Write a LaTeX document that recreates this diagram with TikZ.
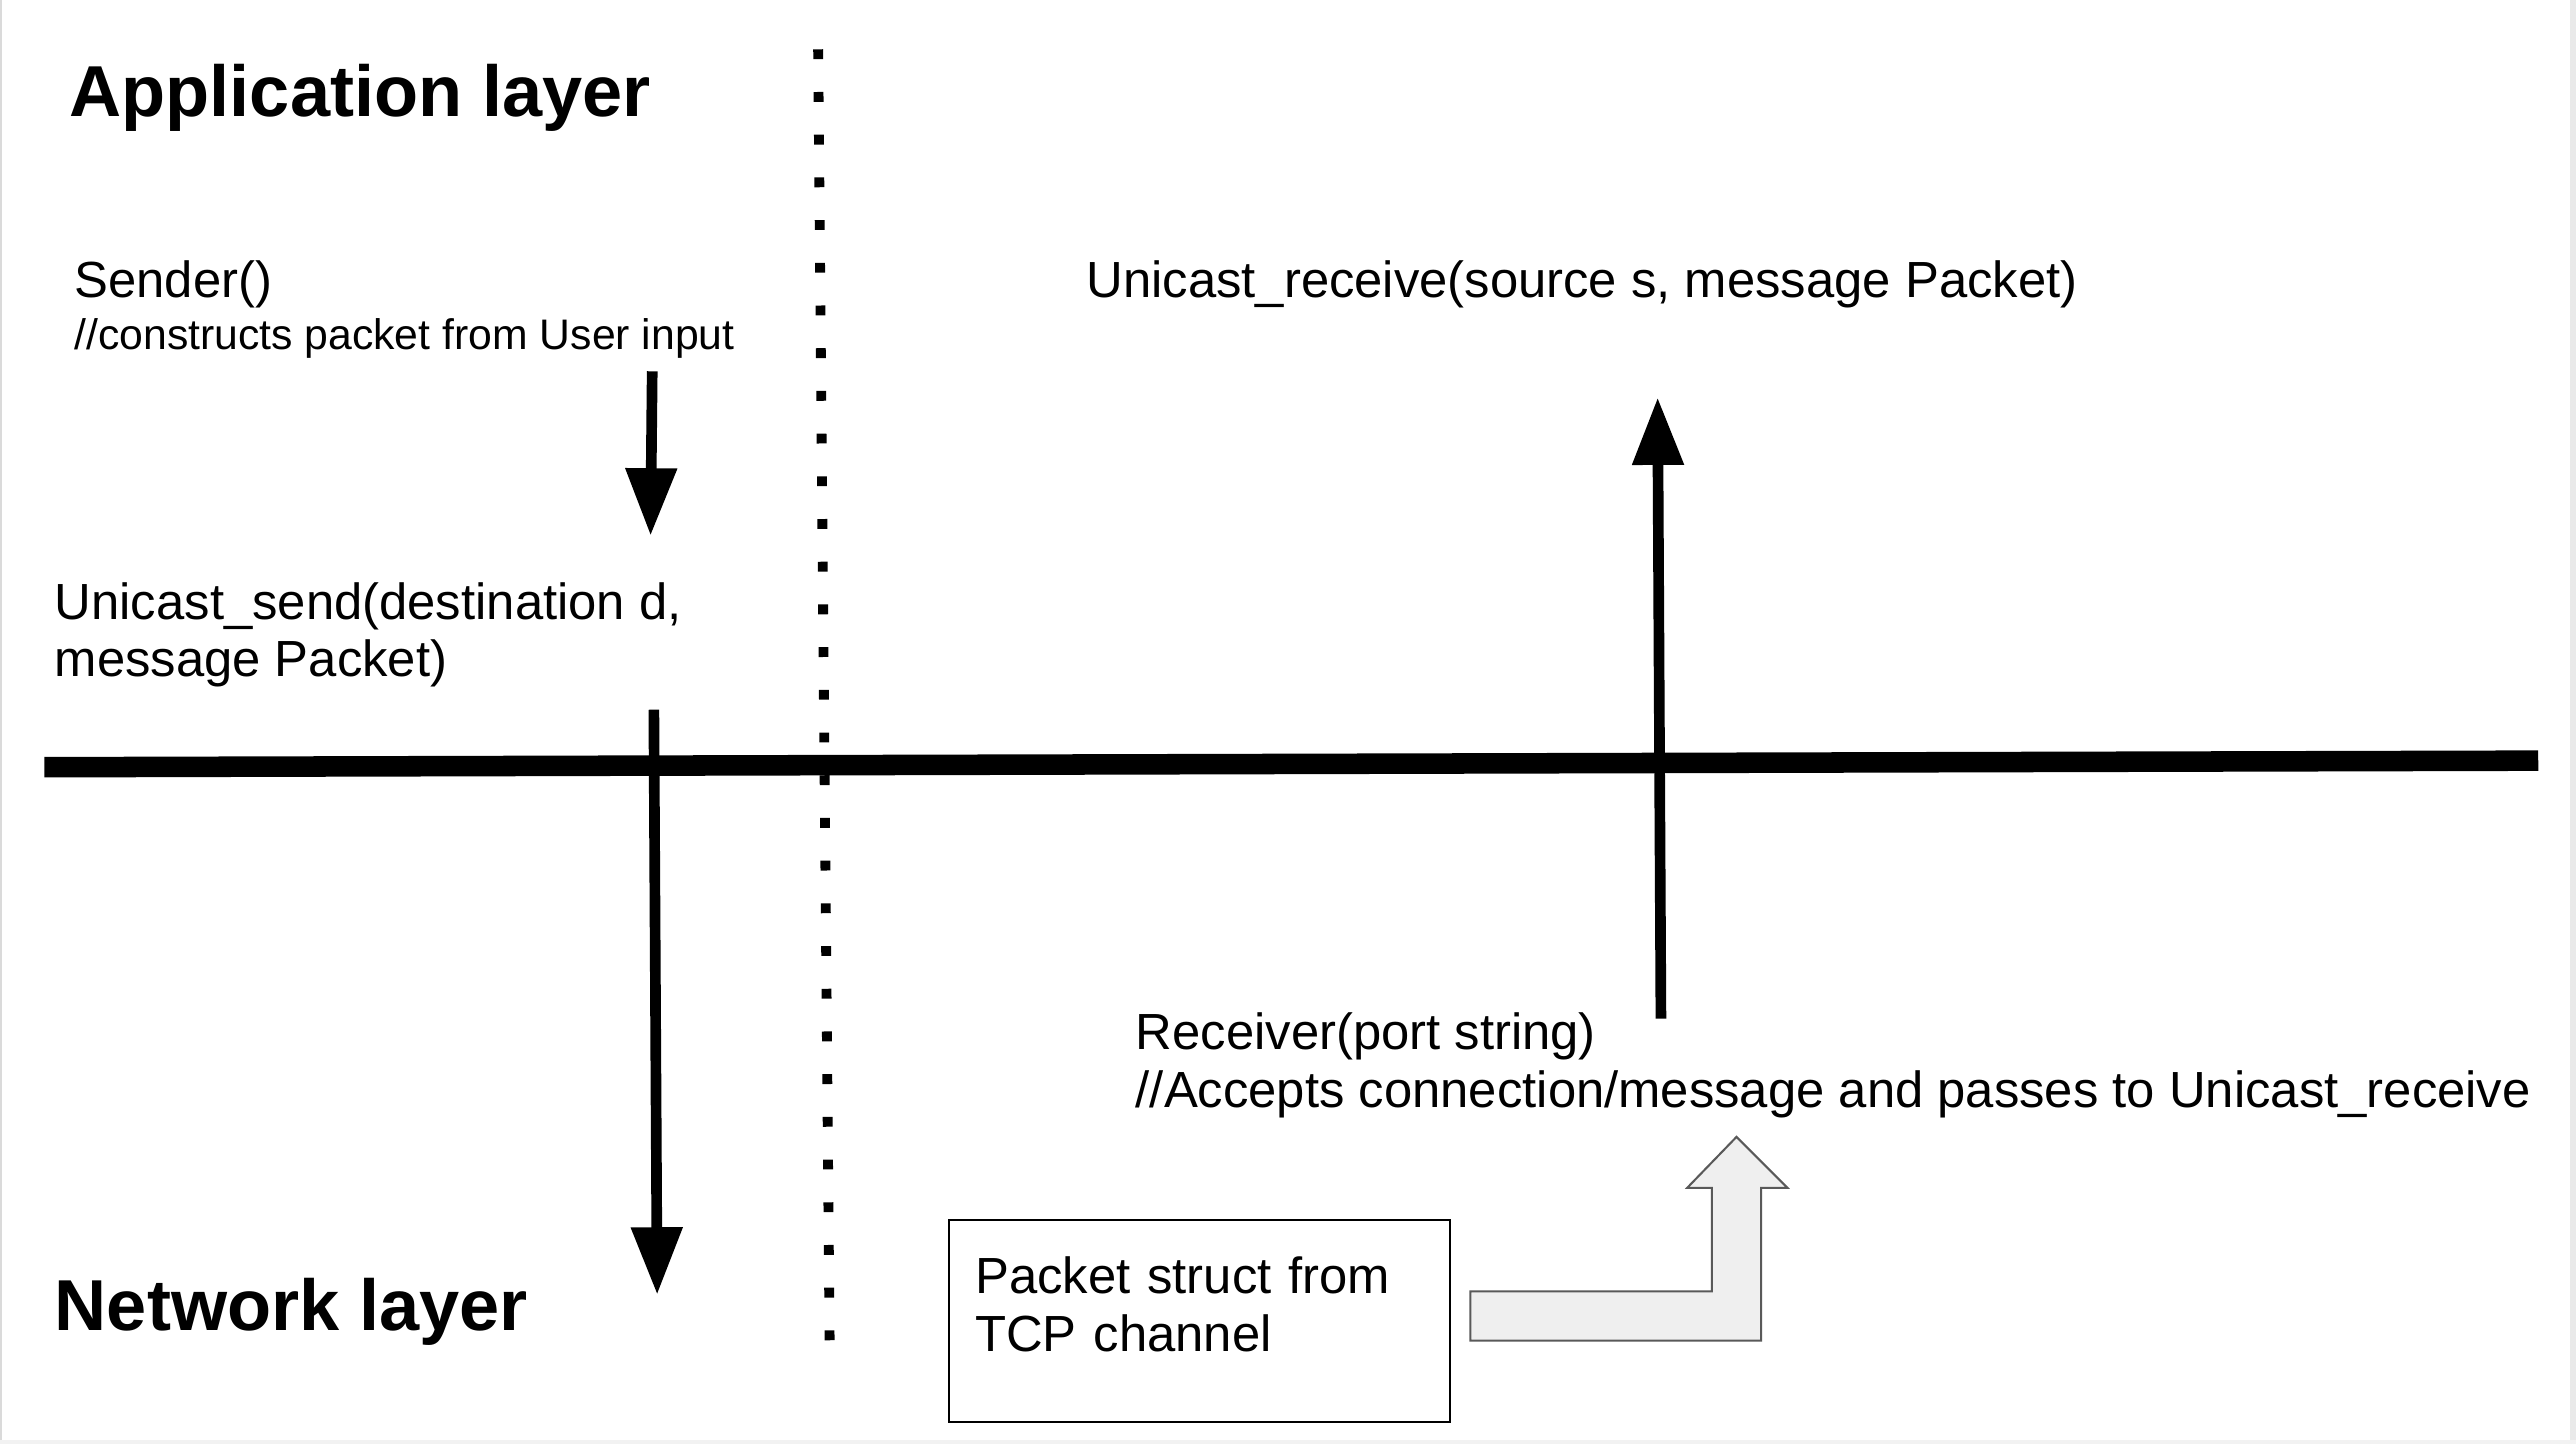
\documentclass[tikz,border=0pt]{standalone}
\usepackage{fontspec}
\setmainfont{Liberation Sans}
\usepackage{xcolor}
\usetikzlibrary{positioning}
\usetikzlibrary{arrows.meta}
\definecolor{arrowfill}{HTML}{EFEFEF}
\definecolor{arrowline}{HTML}{595959}
\definecolor{frameline}{HTML}{DADADA}

\begin{document}
\begin{tikzpicture}[x=0.02cm,y=-0.02cm,
  layer/.style={anchor=base west,inner sep=0pt,font=\bfseries\fontsize{25}{30}\selectfont},
  call/.style={anchor=base west,inner sep=0pt,align=left,font=\fontsize{17.6}{20}\selectfont},
  flow/.style={-{Triangle[width=0.6cm,length=0.82cm]},line width=0.13cm},
  boundary/.style={line width=0.25cm},
  divider/.style={line width=0.12cm,dash pattern=on 0.12cm off 0.4cm},
  packet/.style={draw,line width=0.025cm,anchor=north west,align=left,inner xsep=0.32cm,inner ysep=0pt,
    text width=5.46cm,text height=0.9cm,text depth=1.56cm,font=\fontsize{17.6}{20}\selectfont}]
\useasboundingbox (0,0) rectangle (1568,879);
\draw[frameline,line width=0.025cm] (0.6,0) -- (0.6,879);
\draw[frameline!60,line width=0.07cm] (1566.2,0) -- (1566.2,879);
\draw[frameline!35,line width=0.05cm] (0,877.8) -- (1568,877.8);

\node[layer] (app) at (42,71) {Application layer};
\node[layer] (net) at (33,810) {Network layer};
\node[call,font=\fontsize{17.6}{18.2}\selectfont] (sender) at (45,213)
  {Sender()\\{\fontsize{14.8}{18.2}\selectfont //constructs packet from User input}};
\node[call] (send) at (33,412) {Unicast\_send(destination d,\\message Packet)};
\node[call] (recvapp) at (661,181) {Unicast\_receive(source s, message Packet)};
\node[call] (receiver) at (691,674) {Receiver(port string)\\//Accepts connection/message and passes to Unicast\_receive};
\node[packet] (tcp) at (577,742) {Packet struct from\\TCP channel};

\coordinate (s0) at (397,226);
\coordinate (s1) at (396,326);
\coordinate (d0) at (398,432);
\coordinate (d1) at (400,788);
\coordinate (r0) at (1011,620);
\coordinate (r1) at (1009,242);
\coordinate (b0) at (27,467);
\coordinate (b1) at (1545,463);
\coordinate (v0) at (498,30);
\coordinate (v1) at (505,818);

\draw[boundary] (b0) -- (b1);
\draw[divider] (v0) -- (v1);
\draw[flow] (s0) -- (s1);
\draw[flow] (d0) -- (d1);
\draw[flow] (r0) -- (r1);

\draw[fill=arrowfill,draw=arrowline,line width=0.025cm] (895,786) -- (1042,786) -- (1042,723)
  -- (1027,723) -- (1057,692) -- (1088,723) -- (1072,723) -- (1072,816) -- (895,816) -- cycle;
\end{tikzpicture}
\end{document}
